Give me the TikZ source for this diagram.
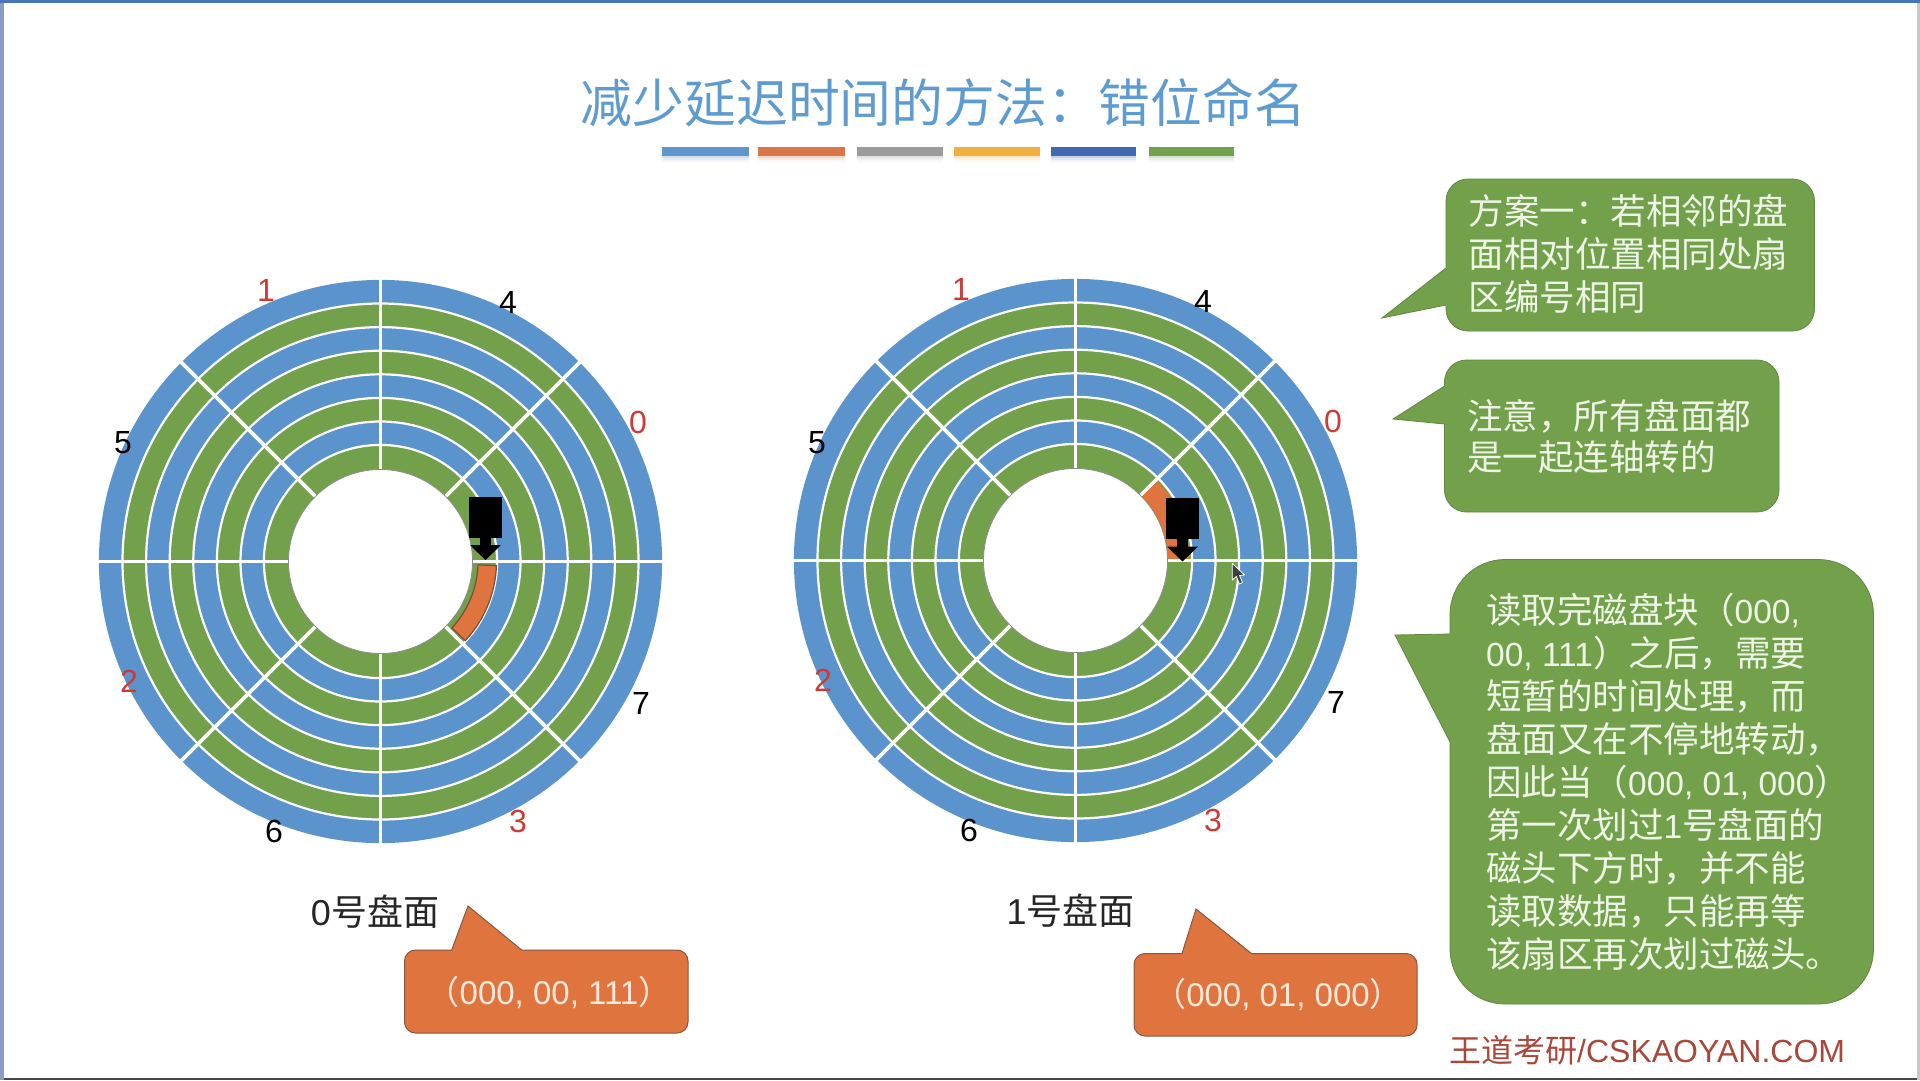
\documentclass[tikz,border=0pt]{standalone}
\usepackage{fontspec}
\setmainfont{Liberation Sans}
\newfontfamily\cjk{Noto Sans CJK SC}
\newcommand{\lat}[1]{{\fontspec{Liberation Sans}\fontsize{33.5}{43}\selectfont #1}}
\definecolor{diskblue}{HTML}{5B94CC}
\definecolor{diskgreen}{HTML}{72A04B}
\definecolor{calloutgreen}{HTML}{72A04B}
\definecolor{calloutorange}{HTML}{E0743E}
\definecolor{titleblue}{HTML}{5E9BD0}
\definecolor{labelred}{HTML}{CF3A34}
\definecolor{markbrown}{HTML}{A8473A}
\definecolor{softwhite}{HTML}{EEF5E6}
\definecolor{softpeach}{HTML}{FCE9DC}
\definecolor{frametop}{HTML}{4A74B8}
\definecolor{frameleft}{HTML}{8A9CC4}
\definecolor{frameright}{HTML}{C8C8C8}
\definecolor{framebottom}{HTML}{45464C}
\tikzset{
  ringsep/.style={draw=white,line width=2.2pt},
  spoke/.style={draw=white,line width=3.8pt},
  sectorhit/.style={fill=calloutorange,draw=black!50!calloutorange!70!gray,line width=1.2pt},
  greenbox/.style={fill=calloutgreen,draw=calloutgreen!85!black,line width=.8pt},
  orangebox/.style={fill=calloutorange,draw=calloutorange!60!black!70!gray,line width=1pt},
  boxtext/.style={text=softwhite,font=\fontsize{35.5}{43}\selectfont,align=left,anchor=north west,inner sep=0pt},
  sectorno/.style={font=\fontsize{32}{32}\selectfont,inner sep=0pt},
  disklabel/.style={font=\fontsize{36}{36}\selectfont,inner sep=0pt,text=black!85},
  tagtext/.style={font=\fontsize{33}{33}\selectfont,inner sep=0pt,text=softpeach},
}
\newcommand{\platter}[2]{%
  \begin{scope}[shift={(#1,#2)}]
    \foreach \r/\c in {281.6/diskblue,258/diskgreen,234.4/diskblue,210.8/diskgreen,187.2/diskblue,163.6/diskgreen,140/diskblue,116.6/diskgreen}
      {\fill[\c] (0,0) circle[radius=\r];}
    \foreach \r in {258,234.4,210.8,187.2,163.6,140,116.6}
      {\draw[ringsep] (0,0) circle[radius=\r];}
    \foreach \a in {0,45,...,315}
      {\draw[spoke] (\a:92) -- (\a:283);}
    \fill[white] (0,0) circle[radius=92];
    \draw[black!45,line width=.8pt] (0,0) circle[radius=92];
  \end{scope}}
\newcommand{\heads}[2]{%
  \begin{scope}[shift={(#1,#2)}]
    \fill[black] (-16.5,-20.5) rectangle (16.5,20.5);
    \fill[black] (-5.5,20) rectangle (5.5,30);
    \fill[black] (-15.5,28) -- (15.5,28) -- (0,43) -- cycle;
  \end{scope}}
\newcommand{\leftcallout}[9]{% x1 y1 x2 y2 R tipx tipy base1 base2
  (#1,#8) -- (#6,#7) -- (#1,#9) -- (#1,{#4-#5}) arc[start angle=180,end angle=90,radius=#5]
  -- ({#3-#5},#4) arc[start angle=90,end angle=0,radius=#5]
  -- (#3,{#2+#5}) arc[start angle=0,end angle=-90,radius=#5]
  -- ({#1+#5},#2) arc[start angle=-90,end angle=-180,radius=#5] -- cycle}
\newcommand{\topcallout}[9]{% x1 y1 x2 y2 R tipx tipy base1 base2
  (#8,#2) -- (#6,#7) -- (#9,#2) -- ({#3-#5},#2) arc[start angle=-90,end angle=0,radius=#5]
  -- (#3,{#4-#5}) arc[start angle=0,end angle=90,radius=#5]
  -- ({#1+#5},#4) arc[start angle=90,end angle=180,radius=#5]
  -- (#1,{#2+#5}) arc[start angle=180,end angle=270,radius=#5] -- cycle}
\begin{document}
\begin{tikzpicture}[x=1pt,y=-1pt]
\useasboundingbox (0,0) rectangle (1920,1080);
\fill[white] (0,0) rectangle (1920,1080);
% slide frame
\fill[framebottom] (0,1078) rectangle (1920,1080);
\fill[frameleft] (0,0) rectangle (4,1080);
\fill[frameright] (1917,0) rectangle (1920,1080);
\fill[frametop] (0,0) rectangle (1920,3);
% title
\node[inner sep=0pt,text=titleblue,font=\cjk\fontsize{51.8}{52}\selectfont] (title) at (943.5,103) {减少延迟时间的方法：错位命名};
% colour bars
\foreach \xa/\xb/\c in {662/749/5F97CC,758/845/D9774A,857/943/9C9C9C,954/1040/F0B040,1051/1136/4169B0,1149/1234/72A04B}{
  \definecolor{barc}{HTML}{\c}
  \fill[barc] (\xa,147) rectangle (\xb,156);
  \fill[barc,opacity=.30] (\xa,156) rectangle (\xb,158);
  \fill[barc,opacity=.16] (\xa,158) rectangle (\xb,160);
  \fill[barc,opacity=.07] (\xa,160) rectangle (\xb,162);
}
% platter 0
\platter{380.5}{561.5}
\begin{scope}[shift={(380.5,561.5)}]
  \draw[sectorhit] (2:97.5) arc[start angle=2,end angle=43,radius=97.5] -- (43:116) arc[start angle=43,end angle=2,radius=116] -- cycle;
\end{scope}
\heads{485.5}{517}
% platter 1
\platter{1075.5}{560.5}
\begin{scope}[shift={(1075.5,560.5)}]
  \fill[calloutorange] (-1:92.5) arc[start angle=-1,end angle=-44,radius=92.5] -- (-44:114) arc[start angle=-44,end angle=-1,radius=114] -- cycle;
\end{scope}
\heads{1182.5}{518.5}
% mouse pointer
\draw[fill=black!75,draw=white,line width=.8pt,line join=round] (1232.3,563.3) -- (1232.3,580) -- (1236.3,576.5) -- (1239.5,584) -- (1242.5,582.5) -- (1239.5,575.5) -- (1244.5,575) -- cycle;
% sector numbers, platter 0
\foreach \n/\t/\px/\py/\c in {a/1/266/290/labelred,b/4/508/302/black,c/0/638/422/labelred,d/5/123/443/black,e/7/641/703/black,f/2/129/681/labelred,g/3/518/821/labelred,h/6/274/831/black}
  \node[sectorno,text=\c] (p0\n) at (\px,\py) {\t};
% sector numbers, platter 1
\foreach \n/\t/\px/\py/\c in {a/1/961/289/labelred,b/4/1203/301/black,c/0/1333/421/labelred,d/5/817/443/black,e/7/1336/702/black,f/2/823/680/labelred,g/3/1213/820/labelred,h/6/969/830/black}
  \node[sectorno,text=\c] (p1\n) at (\px,\py) {\t};
% platter captions
\node[disklabel] (cap0) at (375,912) {0{\cjk 号盘面}};
\node[disklabel] (cap1) at (1070.5,911) {1{\cjk 号盘面}};
% orange tags
\draw[orangebox] \topcallout{404.5}{950}{688}{1033}{11}{468}{906}{451.7}{521.7};
\node[tagtext] (tag0) at (549,992) {{\cjk （}000, 00, 111{\cjk ）}};
\draw[orangebox] \topcallout{1134}{953.5}{1417}{1036}{11}{1196}{909}{1182}{1251.5};
\node[tagtext] (tag1) at (1278,994) {{\cjk （}000, 01, 000{\cjk ）}};
% green callouts
\draw[greenbox] \leftcallout{1446}{179}{1814.5}{331}{22}{1382}{318}{268}{305};
\node[boxtext] (note1) at (1468.5,194.5) {\cjk 方案一：若相邻的盘\\\cjk 面相对位置相同处扇\\\cjk 区编号相同};
\draw[greenbox] \leftcallout{1444.5}{360}{1779}{512}{22}{1393}{419}{386}{424};
\node[boxtext,font=\fontsize{35.5}{41}\selectfont] (note2) at (1467,399.5) {\cjk 注意，所有盘面都\\\cjk 是一起连轴转的};
\draw[greenbox] \leftcallout{1450}{559.5}{1873.5}{1004}{55}{1395}{635}{634}{742};
\node[boxtext] (note3) at (1486,593) {\cjk 读取完磁盘块（\lat{000,}\\
\lat{00, 111}{\cjk ）之后，需要}\\
\cjk 短暂的时间处理，而\\
\cjk 盘面又在不停地转动，\\
\cjk 因此当（\lat{000, 01, 000}）\\
\cjk 第一次划过\lat{1}号盘面的\\
\cjk 磁头下方时，并不能\\
\cjk 读取数据，只能再等\\
\cjk 该扇区再次划过磁头。};
% watermark
\node[inner sep=0pt,anchor=west,text=markbrown,font=\fontsize{32}{32}\selectfont] (mark) at (1449,1050) {{\cjk 王道考研}/CSKAOYAN.COM};
\end{tikzpicture}
\end{document}
